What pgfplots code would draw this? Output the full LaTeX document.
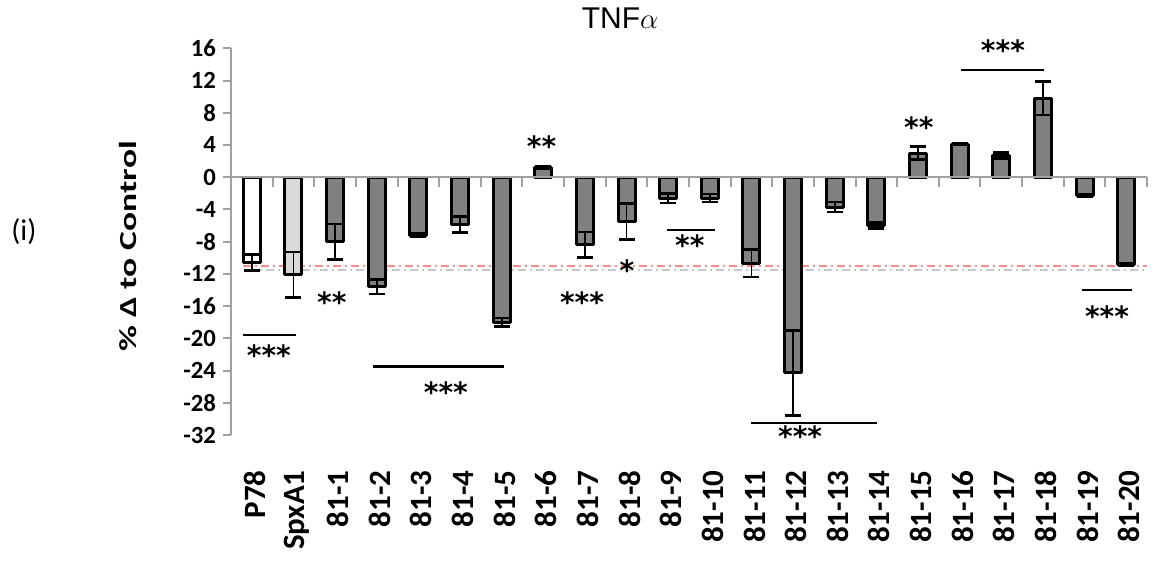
\documentclass[border=0pt]{standalone}
\usepackage{pgfplots}
\pgfplotsset{compat=1.18}
\usepackage{fontspec}
\setmainfont{Carlito}
\newfontfamily\arialfont{Liberation Sans}
\newfontfamily\starfont{DejaVu Sans}
\definecolor{bargray}{HTML}{808080}
\definecolor{lightbar}{HTML}{D9D9D9}
\definecolor{axgray}{HTML}{A0A0A0}
\definecolor{reflred}{HTML}{FF8C8C}
\definecolor{reflgray}{HTML}{C8C8C8}
\begin{document}
\begin{tikzpicture}
\useasboundingbox (0,0) rectangle (579pt,280.5pt);
\begin{axis}[
  at={(115.5pt,63pt)}, anchor=south west,
  scale only axis, width=458pt, height=193.35pt,
  xmin=-0.5, xmax=21.5, ymin=-32, ymax=16,
  clip=false,
  axis y line*=left, axis x line*=bottom,
  x axis line style={draw=none},
  y axis line style={axgray, line width=1pt},
  xtick={0,...,21},
  xticklabels={P78,SpxA1,81-1,81-2,81-3,81-4,81-5,81-6,81-7,81-8,81-9,81-10,81-11,81-12,81-13,81-14,81-15,81-16,81-17,81-18,81-19,81-20},
  xtick style={draw=none},
  xticklabel style={yshift=-13.5pt, xshift=1.5pt, rotate=90, anchor=east, inner sep=0pt, font=\bfseries\fontsize{15.5}{17}\selectfont},
  ytick={-32,-28,...,16},
  yticklabels={-32,-28,-24,-20,-16,-12,-8,-4,0,4,8,12,16},
  ytick style={axgray, line width=1pt},
  tick align=outside, major tick length=4pt,
  yticklabel style={font=\bfseries\fontsize{12.35}{14}\selectfont},
  every axis plot/.append style={line join=round},
  mybar/.style={ybar, bar width=8.5pt, bar shift=0pt, draw=black, line width=1.5pt,
   error bars/y dir=both, error bars/y explicit,
   error bars/error bar style={line width=0.9pt, black},
   error bars/error mark options={rotate=90, line width=1.3pt, mark size=4pt, black}},
]
% reference lines
\addplot[reflgray, line width=0.8pt, dash pattern=on 4pt off 2pt on 1pt off 2pt] coordinates {(-0.1,-11.5) (21.5,-11.5)};
\addplot[reflred, line width=0.8pt, dash pattern=on 4pt off 2pt on 1pt off 2pt] coordinates {(-0.2,-11.0) (21.5,-11.0)};
% bars
\addplot[mybar, fill=white] table[x=x, y=y, y error=e] {
x y e
0 -10.6 1.0
};
\addplot[mybar, fill=lightbar] table[x=x, y=y, y error=e] {
x y e
1 -12.1 2.8
};
\addplot[mybar, fill=bargray] table[x=x, y=y, y error=e] {
x y e
2 -8.0 2.2
3 -13.6 0.9
4 -7.2 0.2
5 -5.9 1.0
6 -18.0 0.5
7 1.2 0.1
8 -8.4 1.6
9 -5.5 2.2
10 -2.6 0.6
11 -2.6 0.5
12 -10.7 1.7
13 -24.3 5.3
14 -3.7 0.6
15 -6.0 0.35
16 3.0 0.8
17 4.1 0.05
18 2.7 0.35
19 9.8 2.1
20 -2.3 0.15
21 -10.8 0.15
};
% zero line and category ticks
\draw[axgray, line width=1pt] (axis cs:-0.5,0) -- (axis cs:21.5,0);
\pgfplotsinvokeforeach{0.5,1.5,...,21.5}{\draw[axgray, line width=1pt] (axis cs:#1,0) -- ([yshift=-5pt]axis cs:#1,0);}
% significance
\tikzset{sig/.style={font=\starfont\bfseries\fontsize{14}{16}\selectfont, inner sep=0pt}}
\draw[line width=1.2pt] (axis cs:-0.22,-19.6) -- (axis cs:1.05,-19.6);
\node[sig] at (axis cs:0.41,-22.05) {***};
\node[sig] at (axis cs:1.92,-15.45) {**};
\draw[line width=1.2pt] (axis cs:2.91,-23.5) -- (axis cs:6.06,-23.5);
\node[sig] at (axis cs:4.66,-26.7) {***};
\node[sig] at (axis cs:6.96,3.8) {**};
\node[sig] at (axis cs:7.93,-15.45) {***};
\node[sig] at (axis cs:9.01,-11.5) {*};
\draw[line width=1.2pt] (axis cs:9.96,-6.55) -- (axis cs:11.12,-6.55);
\node[sig] at (axis cs:10.52,-8.4) {**};
\draw[line width=1.2pt] (axis cs:11.98,-30.5) -- (axis cs:15.01,-30.5);
\node[sig] at (axis cs:13.17,-32.2) {***};
\node[sig] at (axis cs:16.02,6.27) {**};
\draw[line width=1.2pt] (axis cs:17.04,13.3) -- (axis cs:19.02,13.3);
\node[sig] at (axis cs:18.04,15.8) {***};
\draw[line width=1.2pt] (axis cs:19.93,-14.0) -- (axis cs:21.15,-14.0);
\node[sig] at (axis cs:20.54,-17.3) {***};
\end{axis}
\node[rotate=90, font=\bfseries\fontsize{12.25}{14}\selectfont, inner sep=0pt] at (64.25pt,157.25pt) {\scalebox{1.45}[1]{\% Δ to Control}};
\node[font=\arialfont\fontsize{15}{18}\selectfont, anchor=base, inner sep=0pt] at (310pt,266.35pt) {TNF$\alpha$};
\node[anchor=west, inner sep=0pt, font=\fontsize{15}{18}\selectfont] at (5.5pt,164.5pt) {(i)};
\end{tikzpicture}
\end{document}
